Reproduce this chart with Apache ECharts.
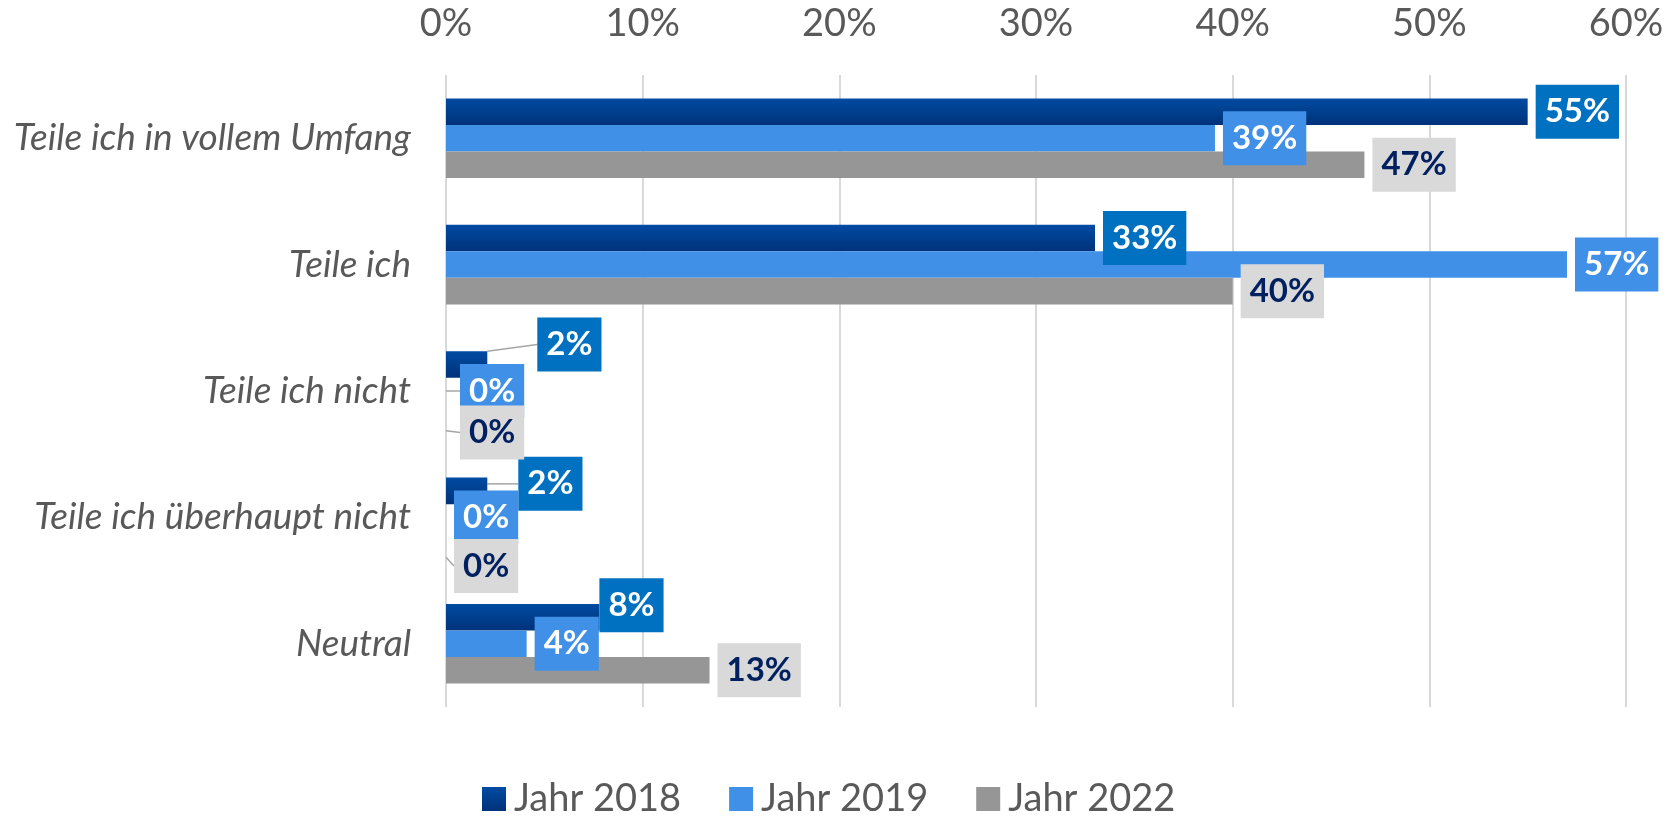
<!DOCTYPE html>
<html>
<head>
<meta charset="utf-8">
<script src="https://cdn.jsdelivr.net/npm/echarts@6/dist/echarts.min.js"></script>
<style>
html,body{margin:0;padding:0;background:#fff;}
#chart{width:1675px;height:817px;}
</style>
</head>
<body>
<div id="chart"></div>
<script>
const categories = ['Teile ich in vollem Umfang', 'Teile ich', 'Teile ich nicht', 'Teile ich überhaupt nicht', 'Neutral'];
const seriesNames = ['Jahr 2018', 'Jahr 2019', 'Jahr 2022'];
const values2018 = [55.0, 33.0, 2.1, 2.1, 7.8];
const values2019 = [39.1, 57.0, 0, 0, 4.1];
const values2022 = [46.7, 40.0, 0, 0, 13.4];
const xTicks = [0, 10, 20, 30, 40, 50, 60];

// label nudges (pixel offsets) for crowded small values: key = seriesIndex-dataIndex
const labelShift = {
  '0-2': [42, -20], '1-2': [6, 0], '2-2': [6, 15],
  '0-3': [23, -7], '2-3': [0, 22],
  '0-4': [-8, -12]
};

const FONT = 'Lato';
const chart = echarts.init(document.getElementById('chart'));

const grad2018 = new echarts.graphic.LinearGradient(0, 0, 0, 1, [
  {offset: 0, color: '#004BA2'}, {offset: 1, color: '#00327A'}
]);
const barColors = [grad2018, '#4190E8', '#969696'];
const labelBg = ['#0070C0', '#4190E8', '#D9D9D9'];
const labelColor = ['#FFFFFF', '#FFFFFF', '#002060'];
const allValues = [values2018, values2019, values2022];

function makeSeries(si) {
  return {
    name: seriesNames[si],
    type: 'bar',
    barGap: '0%',
    barCategoryGap: '37%',
    itemStyle: {color: barColors[si]},
    data: allValues[si].map((v, di) => {
      const item = {value: v};
      if (labelShift[si + '-' + di]) item.labelLine = {show: true};
      return item;
    }),
    label: {
      show: true,
      position: 'right',
      distance: 8,
      formatter: p => Math.round(p.value) + '%',
      backgroundColor: labelBg[si],
      color: labelColor[si],
      fontFamily: FONT,
      fontWeight: 'bold',
      fontSize: 33,
      lineHeight: 33,
      padding: [11, 9, 10, 9]
    },
    labelLine: {show: false, lineStyle: {color: '#A6A6A6', width: 1.5}},
    labelLayout: function (p) {
      const s = labelShift[p.seriesIndex + '-' + p.dataIndex];
      return s ? {dx: s[0], dy: s[1]} : {};
    }
  };
}

chart.setOption({
  animation: false,
  textStyle: {fontFamily: FONT},
  grid: {left: 446, right: 49, top: 75, height: 632},
  xAxis: {
    type: 'value',
    position: 'top',
    min: xTicks[0],
    max: xTicks[xTicks.length - 1],
    interval: 10,
    axisLine: {show: false},
    axisTick: {show: false},
    splitLine: {show: true, lineStyle: {color: '#D9D9D9', width: 2}},
    axisLabel: {
      formatter: '{value}%',
      color: '#595959',
      fontFamily: FONT,
      fontSize: 38,
      margin: 32
    }
  },
  yAxis: {
    type: 'category',
    inverse: true,
    data: categories,
    axisLine: {show: false},
    axisTick: {show: false},
    axisLabel: {
      color: '#595959',
      fontFamily: FONT,
      fontStyle: 'italic',
      fontSize: 37,
      margin: 35
    }
  },
  legend: {
    bottom: -6,
    left: 477,
    itemWidth: 24,
    itemHeight: 24,
    itemGap: 48,
    icon: 'rect',
    textStyle: {color: '#595959', fontFamily: FONT, fontSize: 38, padding: [0, 0, 0, 3]},
    data: seriesNames
  },
  series: [makeSeries(0), makeSeries(1), makeSeries(2)]
});
</script>
</body>
</html>
